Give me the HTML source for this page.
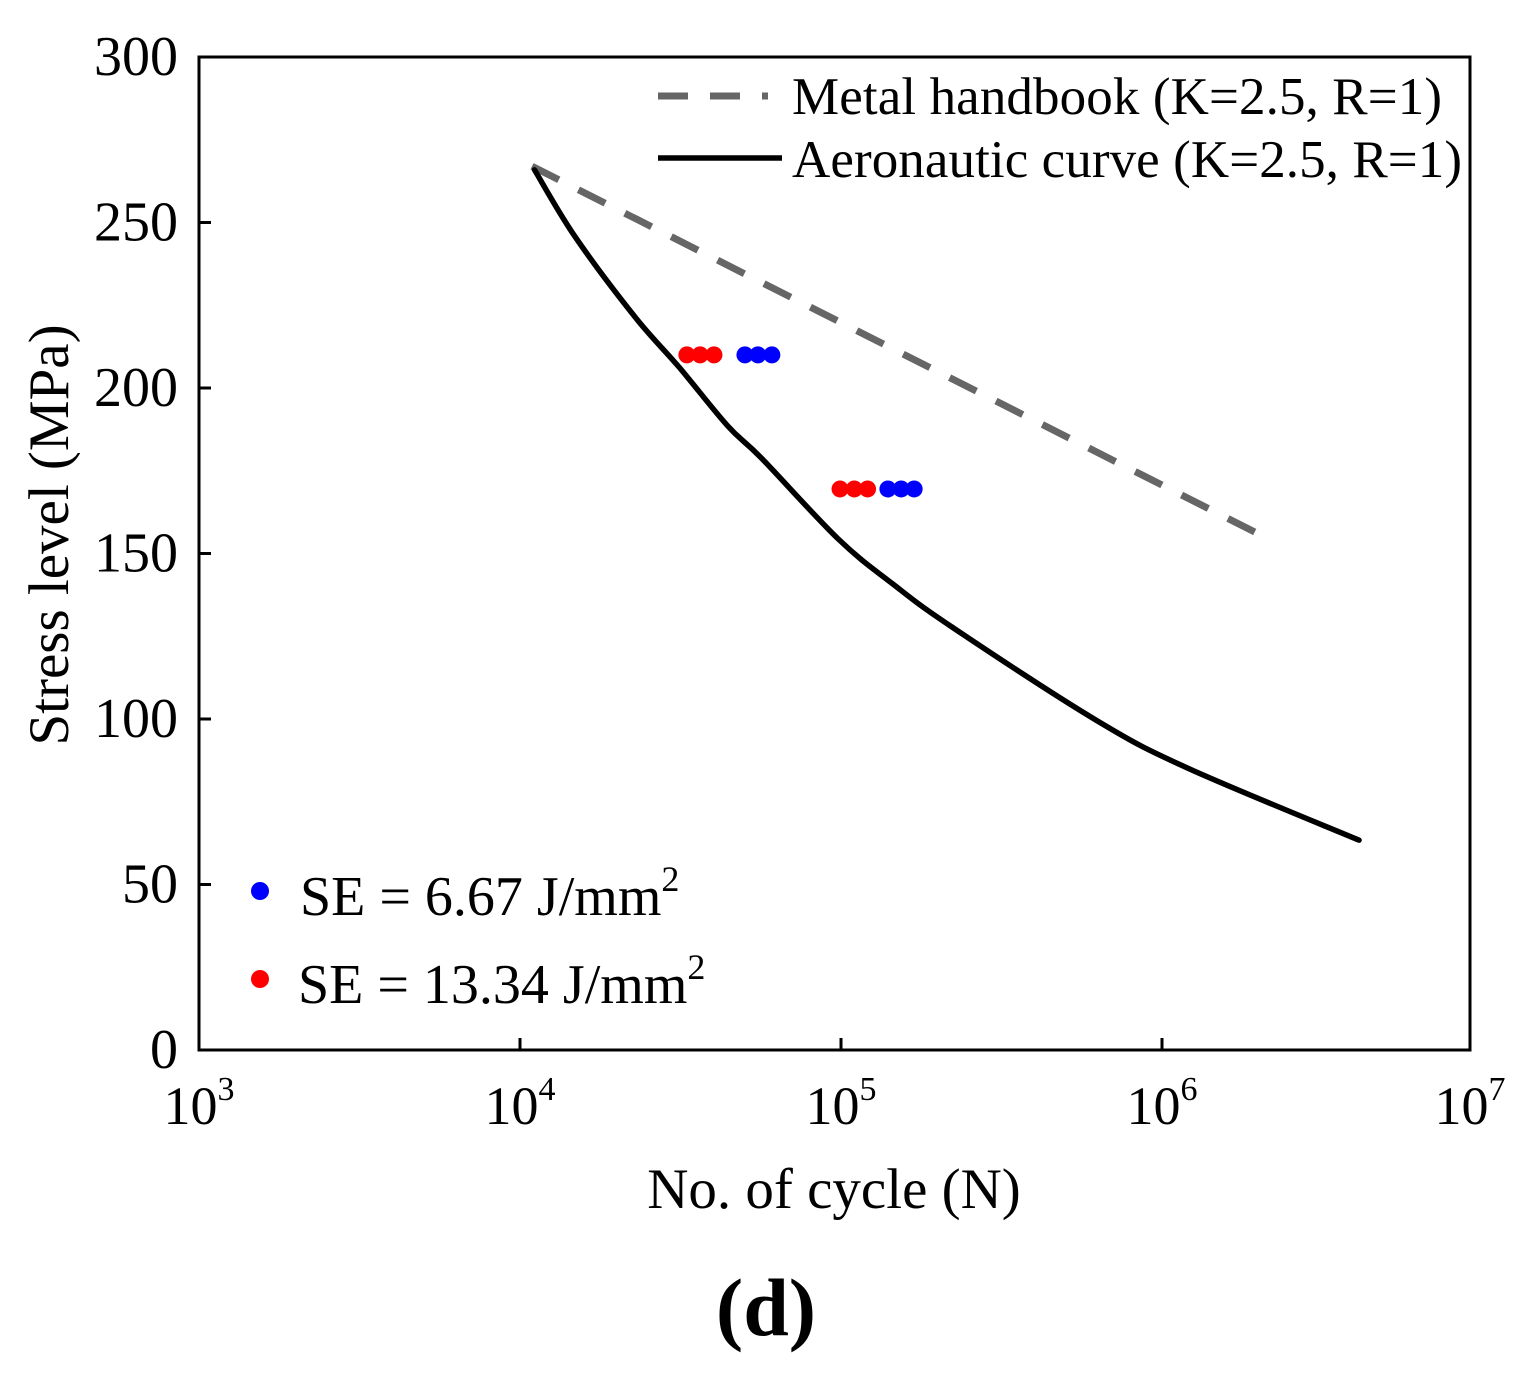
<!DOCTYPE html>
<html><head><meta charset="utf-8"><style>
html,body{margin:0;padding:0;background:#fff;}
svg{display:block;font-family:"Liberation Serif",serif;}
</style></head><body>
<svg id="chart" width="1525" height="1384" viewBox="0 0 1525 1384">
<g id="plot"></g>
</svg>
<script>
const xTicks=[3,4,5,6,7];
const yTicks=[0,50,100,150,200,250,300];
const aeroN=[1.11e4,1.48e4,2.28e4,3.13e4,4.44e4,5.64e4,9.8e4,1.45e5,2.2e5,6.22e5,1.2e6,4.11e6];
const aeroS=[265.9,245.9,221.5,206.3,188.5,178.9,154.4,140.8,128,99.7,85.2,63.4];
const handbookN=[1.09e4,1.99e6];
const handbookS=[267,156];
const redN=[3.31e4,3.64e4,4.02e4,9.93e4,1.10e5,1.21e5];
const redS=[210,210,210,169.5,169.5,169.5];
const blueN=[5.02e4,5.51e4,6.09e4,1.40e5,1.54e5,1.69e5];
const blueS=[210,210,210,169.5,169.5,169.5];

const L=199,R=1470,T=57,B=1050,DEC=321;
const xs=n=>L+(Math.log10(n)-3)*DEC;
const ys=v=>B-v/300*(B-T);
const NS="http://www.w3.org/2000/svg";
const g=document.getElementById('plot');
function mk(tag,attrs,parent){const e=document.createElementNS(NS,tag);for(const k in attrs)e.setAttribute(k,attrs[k]);(parent||g).appendChild(e);return e;}

const frame=mk('rect',{x:L,y:T,width:R-L,height:B-T,fill:'none',stroke:'#000','stroke-width':3});



xTicks.forEach(p=>{
  const x=Math.min(xs(Math.pow(10,p)),R);
  const t=mk('line',{x1:x,x2:x,y1:B,y2:B-12,stroke:'#000','stroke-width':3});
  
  
  const tx=mk('text',{x:x,y:1124,'font-size':54,'text-anchor':'middle'});
  
  
  tx.innerHTML='10<tspan dy="-24" font-size="34">'+p+'</tspan>';
});
yTicks.forEach(v=>{
  const y=ys(v);
  const t=mk('line',{x1:L,x2:L+12,y1:y,y2:y,stroke:'#000','stroke-width':3});
  
  
  const tx=mk('text',{x:178,y:y+18,'font-size':56,'text-anchor':'end'});
  
  
  tx.textContent=v;
});

const hb=mk('path',{d:handbookN.map((n,i)=>(i?'L':'M')+xs(n)+','+ys(handbookS[i])).join(''),fill:'none',stroke:'#666','stroke-width':7,'stroke-dasharray':'30,22'});



const pts=aeroN.map((n,i)=>[xs(n),ys(aeroS[i])]);
let d='M'+pts[0][0]+','+pts[0][1];
for(let i=0;i<pts.length-1;i++){
  const p0=pts[Math.max(i-1,0)],p1=pts[i],p2=pts[i+1],p3=pts[Math.min(i+2,pts.length-1)];
  const c1=[p1[0]+(p2[0]-p0[0])/6,p1[1]+(p2[1]-p0[1])/6];
  const c2=[p2[0]-(p3[0]-p1[0])/6,p2[1]-(p3[1]-p1[1])/6];
  d+='C'+c1[0]+','+c1[1]+' '+c2[0]+','+c2[1]+' '+p2[0]+','+p2[1];
}
const ae=mk('path',{d:d,fill:'none',stroke:'#000','stroke-width':5.5,'stroke-linejoin':'round','stroke-linecap':'round'});



redN.forEach((n,i)=>{const c=mk('circle',{cx:xs(n),cy:ys(redS[i]),r:8.5,fill:'#f00'});
  
  });
blueN.forEach((n,i)=>{const c=mk('circle',{cx:xs(n),cy:ys(blueS[i]),r:8.5,fill:'#00f'});
  
  });
</script>
<svg style="position:absolute;left:0;top:0" width="1525" height="1384">
<g font-family="Liberation Serif, serif">
<line x1="658" y1="96" x2="768" y2="96" stroke="#666" stroke-width="7" stroke-dasharray="30,22"/>
<text x="792" y="114" font-size="53" textLength="650">Metal handbook (K=2.5, R=1)</text>
<line x1="658" y1="158" x2="782" y2="158" stroke="#000" stroke-width="5.5"/>
<text x="792" y="177" font-size="53" textLength="670">Aeronautic curve (K=2.5, R=1)</text>
<circle cx="260" cy="891" r="9" fill="#00f"/>
<text x="300" y="915" font-size="56">SE = 6.67 J/mm<tspan dy="-24" font-size="36">2</tspan></text>
<circle cx="260" cy="979" r="9" fill="#f00"/>
<text x="298" y="1003" font-size="56">SE = 13.34 J/mm<tspan dy="-24" font-size="36">2</tspan></text>
<text x="834" y="1208" font-size="57" text-anchor="middle">No. of cycle (N)</text>
<text transform="translate(68,535) rotate(-90)" font-size="57" text-anchor="middle">Stress level (MPa)</text>
<text x="766" y="1335" font-size="82" font-weight="bold" text-anchor="middle">(d)</text>
</g>
</svg>
</body></html>
